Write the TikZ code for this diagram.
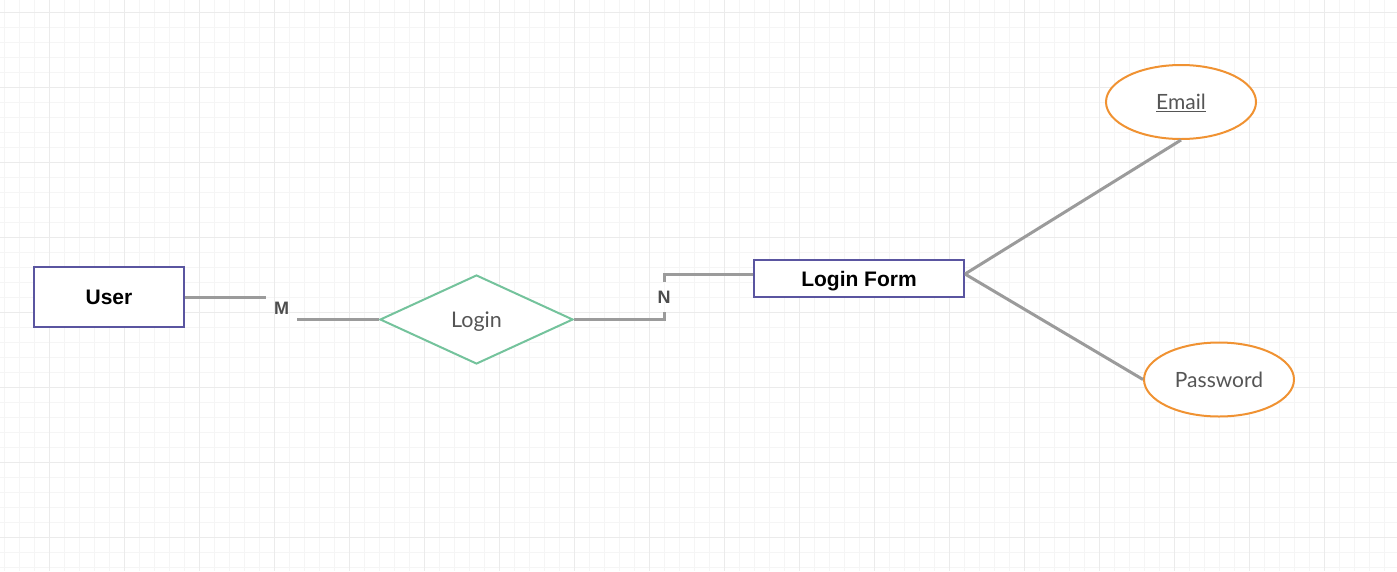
\documentclass[tikz,border=0pt]{standalone}
\usepackage{fontspec}
\setmainfont{Liberation Sans}
\newfontfamily\latofont{Lato}
\usepackage{tikz}
\usetikzlibrary{positioning,shapes.geometric,calc}

\definecolor{entityblue}{HTML}{5A55A0}
\definecolor{relgreen}{HTML}{74C39C}
\definecolor{attrorange}{HTML}{F09232}
\definecolor{linkgray}{HTML}{9B9B9B}
\definecolor{textgray}{HTML}{555555}
\definecolor{labelgray}{HTML}{4D4D4D}
\definecolor{gridminor}{HTML}{F5F5F5}
\definecolor{gridmajor}{HTML}{EBEBEB}

\tikzset{
  entity/.style={draw=entityblue, line width=2, fill=white, inner sep=0,
    text height=15, text depth=0,
    font=\fontsize{21}{25}\selectfont\bfseries},
  relation/.style={diamond, draw=relgreen, line width=2, fill=white, inner sep=0,
    minimum width=193, minimum height=89, aspect=2.17,
    text height=15.5, text depth=0,
    text=textgray, font=\latofont\fontsize{21.5}{25}\selectfont},
  attribute/.style={ellipse, draw=attrorange, line width=2, fill=white, inner sep=0,
    minimum width=150, minimum height=74,
    text height=15, text depth=0,
    text=textgray, font=\latofont\fontsize{21}{25}\selectfont},
  cardlabel/.style={inner sep=0, minimum height=30, text=labelgray,
    text height=13, text depth=0,
    font=\fontsize{18}{21}\selectfont\bfseries},
  link/.style={draw=linkgray, line width=3}
}

\begin{document}
\begin{tikzpicture}[x=1pt, y=-1pt]
\useasboundingbox (0,0) rectangle (1397,571);
\fill[white] (0,0) rectangle (1397,571);

% Background grid
\foreach \x in {4,19,...,1399} \draw[gridminor, line width=1] (\x,0) -- (\x,571);
\foreach \y in {12,27,...,570} \draw[gridminor, line width=1] (0,\y) -- (1397,\y);
\foreach \x in {49,124,...,1399} \draw[gridmajor, line width=1] (\x,0) -- (\x,571);
\foreach \y in {12,87,...,570} \draw[gridmajor, line width=1] (0,\y) -- (1397,\y);

% Entities and relationship
\node[entity, minimum width=150, minimum height=60] (user) at (109,297) {User};
\node[relation] (login) at (476.5,319.5) {Login};
\node[entity, minimum width=210, minimum height=37] (form) at (859,278.5) {Login Form};

% Attributes
\node[attribute] (email) at (1181,102) {\underline{Email}};
\node[attribute] (pass) at (1219,379.5) {Password};

% Cardinality labels
\node[cardlabel, minimum width=31] (mlab) at (281.5,308) {M};
\node[cardlabel, minimum width=16] (nlab) at (664,297) {N};

% Connectors
\draw[link] (user.east) -- (user.east -| mlab.west);
\draw[link] (mlab.east |- login.west) -- (login.west);
\draw[link] (login.east) -| (nlab.south);
\draw[link] (nlab.north) |- ([yshift=4.5]form.west);
\draw[link] ([yshift=4.5]form.east) -- (email.south);
\draw[link] ([yshift=4.5]form.east) -- (pass.west);
\end{tikzpicture}
\end{document}
